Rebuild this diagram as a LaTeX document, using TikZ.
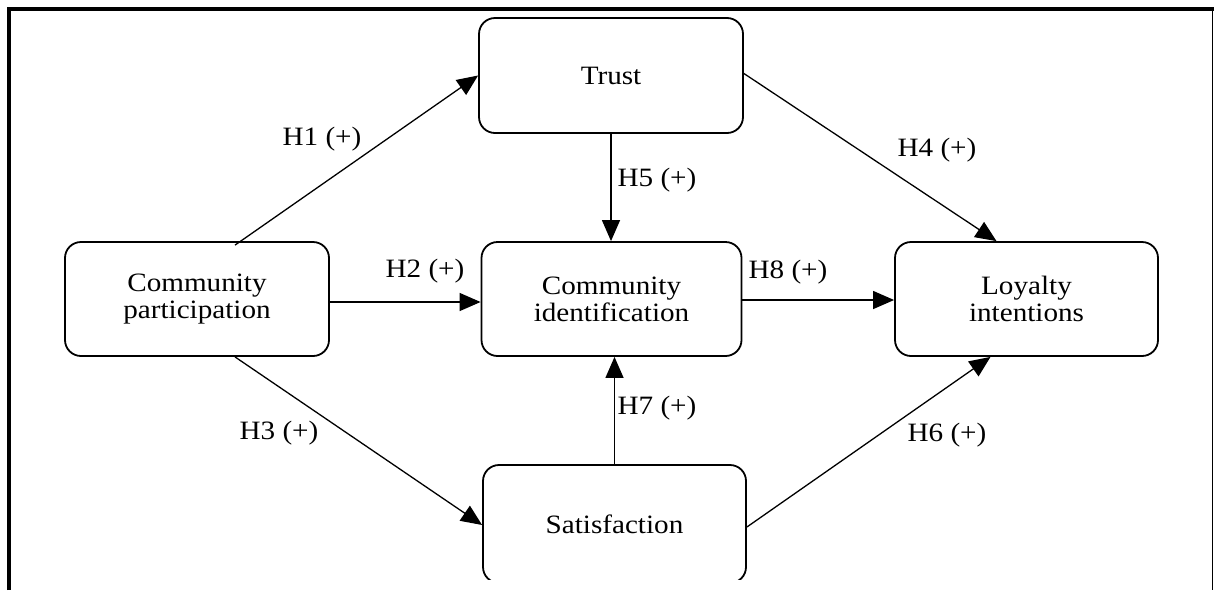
\documentclass[tikz,border=0pt]{standalone}
\usepackage{fontspec}
\usetikzlibrary{arrows.meta}
\newfontfamily\diagfont[FakeStretch=1.1]{Liberation Serif}

\begin{document}
\begin{tikzpicture}[x=1pt, y=-1pt,
  every node/.style={font=\diagfont\fontsize{26.5}{27}\selectfont, text=black},
  construct/.style={draw, line width=1.8pt, rounded corners=16pt, align=center,
    inner sep=0pt},
  link/.style={draw, line width=1.3pt, -{Triangle[length=21pt, width=18pt]}},
  hyp/.style={inner sep=0pt}
]
\useasboundingbox (0,0) rectangle (1214,590);

% frame
\draw[line width=4.2pt] (8.8,590) -- (8.8,9.2) -- (1214,9.2);
\draw[line width=1.5pt] (1212.6,9.2) -- (1212.6,590);

\begin{scope}
\clip (0,0) rectangle (1214,579);

% constructs
\node[construct, minimum width=264pt, minimum height=115pt] (trust) at (611,75.5) {Trust};
\node[construct, minimum width=264pt, minimum height=114pt] (part)  at (197,299) {Community\\participation};
\node[construct, minimum width=260pt, minimum height=114pt] (ident) at (611.5,299) {Community\\identification};
\node[construct, minimum width=263pt, minimum height=114pt] (loyal) at (1026.5,299) {Loyalty\\intentions};
\node[construct, minimum width=263pt, minimum height=118pt] (satis) at (614.5,524) {Satisfaction};

% hypothesised paths
\draw[link] ([xshift=38pt,yshift=-4pt]part.north) -- (trust.west);
\draw[link] ([yshift=-3pt]part.east) -- ([yshift=-3pt]ident.west);
\draw[link] ([xshift=38pt]part.south) -- ([yshift=-1pt]satis.west);
\draw[link] ([yshift=2pt]trust.east) -- ([xshift=-30pt]loyal.north);
\draw[link] (trust.south) -- (trust.south |- ident.north);
\draw[link] ([yshift=-3pt]satis.east) -- ([xshift=-36pt]loyal.south);
\draw[link] (satis.north) -- (satis.north |- ident.south);
\draw[link] ([yshift=-1pt]ident.east) -- ([yshift=-1pt]loyal.west);
\end{scope}

% path labels
\node[hyp] (h1) at (322,139) {H1 (+)};
\node[hyp] (h2) at (425,271) {H2 (+)};
\node[hyp] (h3) at (279,433) {H3 (+)};
\node[hyp] (h4) at (937,150) {H4 (+)};
\node[hyp] (h5) at (657,180) {H5 (+)};
\node[hyp] (h6) at (947,435) {H6 (+)};
\node[hyp] (h7) at (657,408) {H7 (+)};
\node[hyp] (h8) at (788,272) {H8 (+)};
\end{tikzpicture}
\end{document}
